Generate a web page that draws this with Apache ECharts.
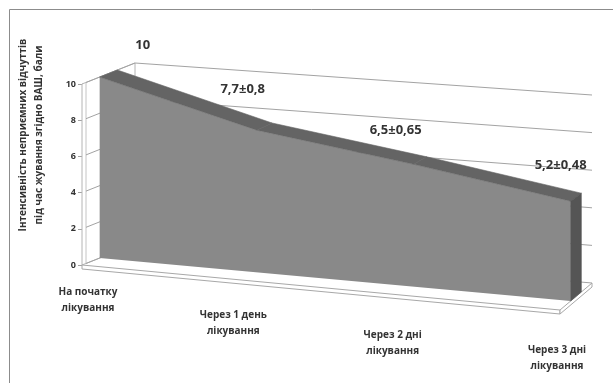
<!DOCTYPE html>
<html>
<head>
<meta charset="utf-8">
<script src="https://cdn.jsdelivr.net/npm/echarts@6/dist/echarts.min.js"></script>
<style>
  html, body { margin: 0; padding: 0; background: #fff; }
  #chart { width: 613px; height: 383px; }
</style>
</head>
<body>
<div id="chart"></div>
<script>
// ---- data ----
const categories = ['На початку\nлікування', 'Через 1 день\nлікування', 'Через 2 дні\nлікування', 'Через 3 дні\nлікування'];
const painValues = [10, 7.7, 6.5, 5.2];
const valueLabels = ['10', '7,7±0,8', '6,5±0,65', '5,2±0,48'];
const yTicks = [0, 2, 4, 6, 8, 10];
const axisTitle = ['Інтенсивність неприємних відчуттів', 'під час жування згідно ВАШ, бали'];

// ---- 3D scene layout ----
const FONT = '"Open Sans", "Liberation Sans", sans-serif';
const TEXT = '#333333';
const GRID = { left: 82, top: 84, width: 478, height: 181 };
// floor corners (front/back, left/right) and the on-screen height of the full value range there
const CORNER = {
  fl: { x: 82,  y: 265, h: 181 },
  fr: { x: 560, y: 310, h: 194 },
  bl: { x: 135, y: 244, h: 181 },
  br: { x: 592, y: 283, h: 188 }
};
const AREA_FRONT = 1 / 3, AREA_BACK = 2 / 3;   // depth slab occupied by the series
const LABEL_OFFSET = [-14, -37];
const labelNudge = [[57, 5], [0, -4], [-4, 3], [4, 1]];
const CAT_OFFSET = [-6, 38];
const catNudge = [[12, -11], [-2, -3], [-2, 2], [3, 2]];

function lerp(a, b, t) { return a + (b - a) * t; }

// category position u, value v, depth w (0 = front, 1 = back wall) -> screen point
function project(api, u, v, w) {
  const c = api.coord([u, v]);
  const a = (c[0] - GRID.left) / GRID.width;
  const b = (GRID.top + GRID.height - c[1]) / GRID.height;
  const k = ['x', 'y', 'h'].map(function (key) {
    const front = lerp(CORNER.fl[key], CORNER.fr[key], a);
    const back = lerp(CORNER.bl[key], CORNER.br[key], a);
    return lerp(front, back, w);
  });
  return [k[0], k[1] - b * k[2]];
}

function poly(points, fill, stroke, lw) {
  return {
    type: 'polygon',
    shape: { points: points },
    style: { fill: fill, stroke: stroke || null, lineWidth: lw || 0 }
  };
}
function line(points, color) {
  return { type: 'polyline', shape: { points: points }, style: { stroke: color, lineWidth: 1, fill: null } };
}
function shift(p, dx, dy) { return [p[0] + dx, p[1] + dy]; }

const last = categories.length - 1;
const vMax = yTicks[yTicks.length - 1];

// walls, floor and gridlines
function renderWalls(params, api) {
  const children = [];
  // back wall
  children.push(poly([project(api, 0, 0, 1), project(api, last, 0, 1), project(api, last, vMax, 1), project(api, 0, vMax, 1)], '#ffffff'));
  // left wall with its thickness edge
  children.push(poly([project(api, 0, 0, 0), project(api, 0, 0, 1), project(api, 0, vMax, 1), project(api, 0, vMax, 0)], '#ffffff', '#b4b4b4', 1));
  children.push(line([shift(project(api, 0, 0, 0), 4, -1.5), shift(project(api, 0, vMax, 0), 4, -1.5)], '#c4c4c4'));
  // floor slab
  const f0 = project(api, 0, 0, 0), f1 = project(api, last, 0, 0), b1 = project(api, last, 0, 1);
  children.push(poly([f0, f1, shift(f1, 0, 4), shift(f0, 0, 4)], '#ffffff', '#a8a8a8', 1));
  children.push(poly([f1, b1, shift(b1, 0, 4), shift(f1, 0, 4)], '#ffffff', '#a8a8a8', 1));
  // gridlines
  yTicks.forEach(function (t) {
    children.push(line([shift(project(api, 0, t, 0), 4, -1.5), project(api, 0, t, 1), project(api, last, t, 1)], '#a3a3a3'));
  });
  return { type: 'group', children: children };
}

// the 3D area: front face (drawn once), top band per segment, right end face
function renderArea(params, api) {
  const i = api.value(0), v = api.value(1);
  const children = [];
  if (i === 0) {
    const front = painValues.map(function (val, k) { return project(api, k, val, AREA_FRONT); });
    front.push(project(api, last, 0, AREA_FRONT));
    front.push(project(api, 0, 0, AREA_FRONT));
    children.push(poly(front, '#898989'));
  }
  const ft = project(api, i, v, AREA_FRONT);
  if (i < last) {
    const vn = painValues[i + 1];
    const ftn = project(api, i + 1, vn, AREA_FRONT);
    children.push(poly([ft, ftn, project(api, i + 1, vn, AREA_BACK), project(api, i, v, AREA_BACK)], '#646464', '#646464', 0.6));
  } else {
    children.push(poly([project(api, i, 0, AREA_FRONT), ft, project(api, i, v, AREA_BACK), project(api, i, 0, AREA_BACK)], '#555555', '#555555', 0.6));
  }
  return { type: 'group', children: children };
}

function renderValueLabel(params, api) {
  const i = api.value(0), v = api.value(1);
  const p = project(api, i, v, AREA_FRONT);
  return {
    type: 'text',
    x: p[0] + LABEL_OFFSET[0] + labelNudge[i][0],
    y: p[1] + LABEL_OFFSET[1] + labelNudge[i][1],
    style: { text: valueLabels[i], fill: TEXT, font: 'bold 13px ' + FONT, align: 'center', verticalAlign: 'middle' }
  };
}

function renderCategory(params, api) {
  const i = api.value(0);
  const p = project(api, i, 0, 0);
  return {
    type: 'text',
    x: p[0] + CAT_OFFSET[0] + catNudge[i][0],
    y: p[1] + CAT_OFFSET[1] + catNudge[i][1] - 8,
    style: { text: categories[i], fill: TEXT, font: 'bold 10px ' + FONT, align: 'center', verticalAlign: 'top', lineHeight: 16 }
  };
}

const chart = echarts.init(document.getElementById('chart'), null, { renderer: 'canvas' });
chart.setOption({
  backgroundColor: '#ffffff',
  animation: false,
  grid: { left: GRID.left, top: GRID.top, width: GRID.width, height: GRID.height, containLabel: false },
  xAxis: { type: 'value', min: 0, max: last, show: false },
  yAxis: {
    type: 'value', min: 0, max: vMax, interval: 2,
    axisLine: { show: true, lineStyle: { color: '#a3a3a3', width: 1 } },
    axisTick: { show: true, length: 4, lineStyle: { color: '#a3a3a3' } },
    axisLabel: { color: TEXT, fontSize: 9, fontWeight: 'bold', fontFamily: FONT, margin: 6 },
    splitLine: { show: false }
  },
  graphic: [
    { type: 'rect', shape: { x: 9.5, y: 9.5, width: 700, height: 500 }, style: { fill: null, stroke: '#8c8c8c', lineWidth: 1 }, z: 100 },
    {
      type: 'text', x: 31, y: 135, rotation: Math.PI / 2,
      style: { text: axisTitle.join('\n'), fill: TEXT, font: 'bold 10px ' + FONT, align: 'center', verticalAlign: 'middle', lineHeight: 16 }
    }
  ],
  series: [
    { type: 'custom', renderItem: renderWalls, data: [[0, 0]], silent: true, z: 1 },
    { type: 'custom', renderItem: renderArea, data: painValues.map(function (v, i) { return [i, v]; }), silent: true, z: 2 },
    { type: 'custom', renderItem: renderValueLabel, data: painValues.map(function (v, i) { return [i, v]; }), silent: true, z: 3 },
    { type: 'custom', renderItem: renderCategory, data: categories.map(function (c, i) { return [i, 0]; }), silent: true, z: 3 }
  ]
});
</script>
</body>
</html>
